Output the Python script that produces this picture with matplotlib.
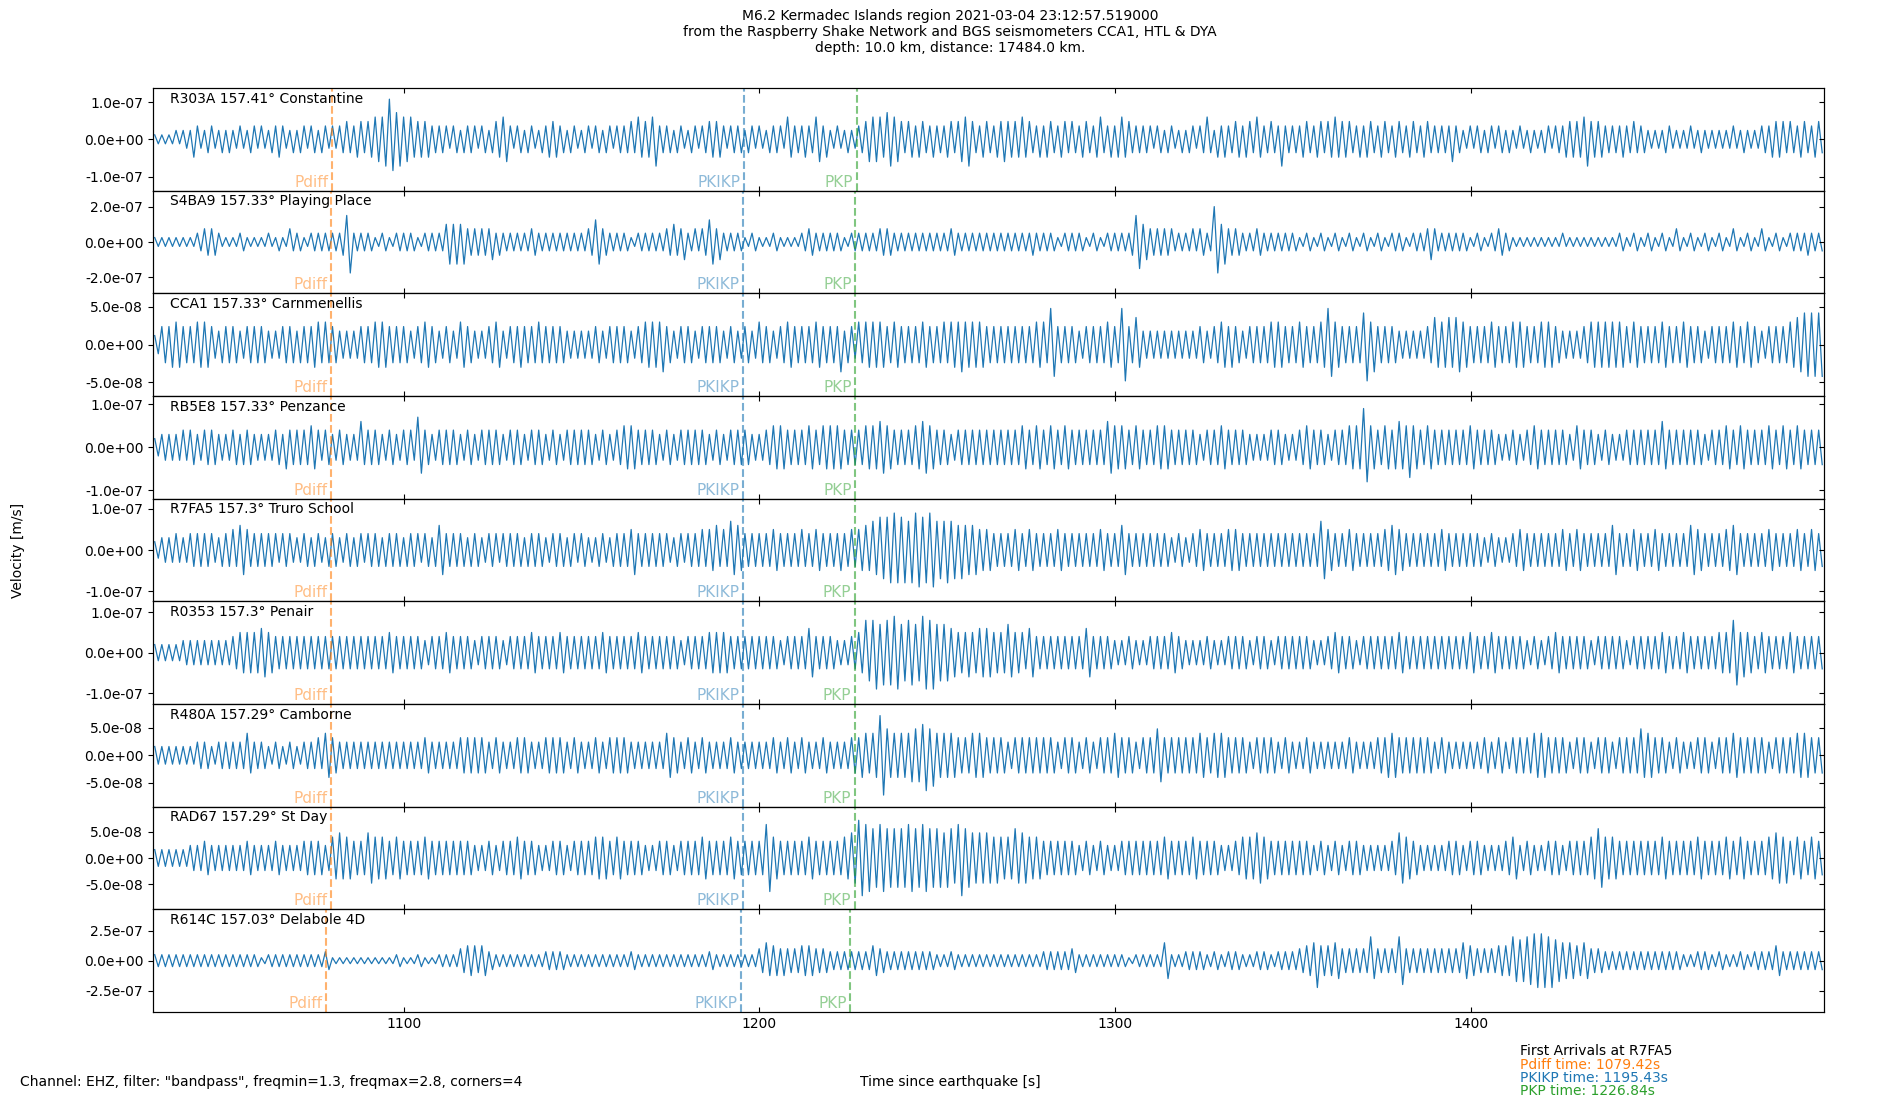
import numpy as np
import matplotlib
matplotlib.use("Agg")
import matplotlib.pyplot as plt
from matplotlib.ticker import FormatStrFormatter
from matplotlib.transforms import blended_transform_factory

# Stations (top to bottom)
stations = ["R303A", "S4BA9", "CCA1", "RB5E8", "R7FA5", "R0353", "R480A", "RAD67", "R614C"]
distances = ["157.41", "157.33", "157.33", "157.33", "157.3", "157.3", "157.29", "157.29", "157.03"]
places = ["Constantine", "Playing Place", "Carnmenellis", "Penzance", "Truro School",
          "Penair", "Camborne", "St Day", "Delabole 4D"]

# arrival times [s] per station
pdiff_times = [1079.91, 1079.55, 1079.55, 1079.55, 1079.42, 1079.42, 1079.38, 1079.38, 1078.22]
pkikp_times = [1195.63, 1195.48, 1195.48, 1195.48, 1195.43, 1195.43, 1195.41, 1195.41, 1194.94]
pkp_times = [1227.39, 1226.99, 1226.99, 1226.99, 1226.84, 1226.84, 1226.79, 1226.79, 1225.49]

# y-axis limits and tick steps [m/s]
ylims = [1.38e-7, 2.9e-7, 6.8e-8, 1.19e-7, 1.25e-7, 1.27e-7, 9.3e-8, 9.8e-8, 4.3e-7]
ytick_steps = [1e-7, 2e-7, 5e-8, 1e-7, 1e-7, 1e-7, 5e-8, 5e-8, 2.5e-7]

# amplitude unit for each digit of the envelope strings [m/s]
units = [1.2e-8, 2.5e-8, 0.6e-8, 1.0e-8, 1.0e-8, 1.0e-8, 0.8e-8, 0.8e-8, 2.5e-8]

# window start and bin width [s]
t_start = 1029.42
t_end = 1499.42
bin_width = 2.0

# max (up) and min (dn) per 2 s bin, in digit units
up_R303A = ("11122 23232 22323 32332 23323 33434 45596 55443 33323 33245 33232 34323 23323 33454 53323 23344 "
            "33323 32335 33353 23223 45565 44343 33445 43434 44543 34344 34353 35433 33232 23352 33434 53433 "
            "33434 45443 34343 43434 33332 33233 22322 23334 45443 33343 22232 23222 22322 23344 43434")
dn_R303A = ("11112 42323 32232 23423 32332 23343 45676 54443 32333 23345 23323 44332 32332 33344 63332 32344 "
            "23332 23324 34354 22323 55465 34434 34356 34345 44434 43433 43434 44333 23323 32334 43443 43363 "
            "34343 44434 43434 34343 33532 23323 32232 32344 46443 34333 22322 22322 22232 23443 34343")
up_S4BA9 = ("11111 12332 11211 12113 21222 22622 21212 22122 24443 33322 22232 22222 23532 22122 22343 23353 "
            "22212 11211 12322 22122 22332 22222 22322 22222 22222 22122 21212 22264 33332 23328 43322 32222 "
            "21212 12121 21212 21223 32222 12123 21111 11121 11111 12121 21213 12121 21312 13121 22222")
dn_S4BA9 = ("11111 12331 11211 11212 21222 23722 21212 22122 25553 33432 22232 22222 23532 22122 22334 22354 "
            "22212 11211 12322 22122 22332 22222 22322 22222 22232 22122 21212 22364 33322 22327 53322 32222 "
            "21212 12121 21212 21224 22222 12123 21111 11111 11111 12121 21212 12121 21212 12121 22322")
up_CCA1 = ("24454 45543 44344 43344 34455 43334 45544 43454 34354 33453 44445 44433 33434 44345 55434 43444 "
           "34343 54345 44454 44345 55545 44454 45555 55444 44445 58444 34445 48463 33333 33434 54434 44554 "
           "45445 85444 75444 33334 65665 44454 45544 55433 34555 55454 44544 54434 44545 43444 56777")
dn_CCA1 = ("24554 45534 44344 43344 44544 43334 45544 43454 34354 33453 45444 44433 33434 44345 56434 43444 "
           "34343 44345 44454 46434 55545 44454 44565 55444 44445 47444 34445 48453 33333 33434 55434 44554 "
           "45445 75444 86444 33334 55565 44454 45544 55433 34555 55454 44544 54434 44545 43444 56777")
up_RB5E8 = ("23334 43443 34343 33434 44544 34336 44343 44743 44434 34443 44344 34344 44343 45544 43434 44434 "
            "34443 34554 44545 55444 55654 44565 44344 44444 44545 45454 44446 55454 45544 44344 54443 33443 "
            "34544 34455 95454 65545 44444 54443 34345 44443 54434 33444 44644 44434 45454 44545 45444")
dn_RB5E8 = ("23333 43443 34443 33454 44534 34334 44343 43643 44434 34443 44344 34344 44343 45544 43434 44434 "
            "34443 34554 44545 55444 55654 44565 44344 44444 44545 45454 44446 55454 45544 44344 54443 33443 "
            "34544 34455 85455 57545 44444 54443 34345 44443 54434 33444 44544 44434 45454 44545 45444")
up_R7FA5 = ("23343 44443 45654 44444 34343 43434 44344 34443 64443 43444 44344 34434 43343 44544 44434 44556 "
            "57644 44544 45454 44455 67889 87989 77766 65544 45454 44544 44454 46444 44434 34544 45544 44444 "
            "44447 54454 44456 54444 45444 44343 34544 44454 54444 64454 45444 46544 45644 44544 45454")
dn_R7FA5 = ("23333 44434 44644 44343 34434 43443 44444 44344 64444 43434 44444 34443 43434 44644 44343 44454 "
            "46544 44544 44454 45445 56788 88989 78776 65544 45454 44544 44454 46444 44434 34544 45544 44444 "
            "44447 54454 44456 54444 45444 44343 34544 44454 54444 64454 45444 46544 45644 44544 45454")
up_R0353 = ("22223 33333 34555 65444 44444 44444 44454 44434 45444 34443 44454 44544 44454 44454 44443 44455 "
            "54444 44434 44644 43345 88789 78798 77655 56655 75564 44444 46444 33433 44454 33343 34443 44344 "
            "44433 45443 44444 54444 44444 54454 44434 34544 44344 44344 44544 54444 55855 45444 54444")
dn_R0353 = ("22223 33333 34555 65444 44444 44444 44454 44434 45444 34443 44454 44544 44454 44454 44443 44455 "
            "54444 44434 44644 43345 79889 78799 77656 56655 65464 44444 46444 33433 44454 33343 34443 44344 "
            "44433 45443 44444 54444 44444 54454 44434 34544 44344 44344 44544 54444 55865 45444 54444")
up_R480A = ("22222 23323 33353 32323 23345 43333 33333 33343 33344 44343 34433 44434 33434 44333 33543 43433 "
            "34333 33434 34334 33344 55965 55676 55544 55444 34444 44344 34344 54434 46444 44545 54443 44434 "
            "33433 33343 33445 44444 34333 33434 34445 54443 44344 34446 54434 33443 44544 44344 45544")
dn_R480A = ("22222 23323 33343 32323 23335 43333 33333 33343 33344 44343 34433 44434 33434 44333 33543 43433 "
            "34333 33434 34334 33345 45955 56687 55544 55444 34444 44344 34344 54434 46444 44545 54443 44434 "
            "33433 33343 33455 44444 34333 33434 34445 54443 44344 34445 54434 33443 44544 44344 45544")
up_RAD67 = ("22222 33433 33343 33433 34443 56544 65545 44454 44444 33434 45443 34434 44554 54443 34434 44544 "
            "45444 48544 44544 44569 87877 78787 76787 66655 57655 44444 34343 34444 44544 45444 33455 65444 "
            "44434 34344 33334 65433 33443 44333 45343 34434 44575 54444 44544 44544 45454 44565 45454")
dn_RAD67 = ("22222 33433 33343 33433 34443 55544 65545 44454 44444 33434 45443 34434 44554 54443 34434 44544 "
            "45444 48544 44544 44569 87877 78787 77697 66665 56655 44444 34343 34444 44544 45444 33455 65444 "
            "44434 34344 33334 65433 33443 44333 45343 34434 44575 54444 44544 44544 45454 44566 45454")
up_R614C = ("22222 22222 22222 12222 22223 11111 11112 11211 22245 55322 22222 33322 22222 22322 22222 22232 "
            "22222 46544 45544 33333 35433 33333 22322 22222 22222 33334 22222 22122 22622 33323 23322 33233 "
            "34565 56444 48444 84444 44446 54445 58789 98766 56443 33333 33333 22332 32232 33353 33333")
dn_R614C = ("22222 22222 22222 12222 22223 11111 11112 11211 22245 45322 22222 33322 22222 22322 22222 22232 "
            "22222 45554 45544 33333 35433 33333 22322 22222 22222 33334 22222 22122 22622 33323 23322 33233 "
            "34595 56444 46444 84444 44446 54445 57789 99766 56443 33333 33333 22332 32232 33353 33333")

ups = [up_R303A, up_S4BA9, up_CCA1, up_RB5E8, up_R7FA5, up_R0353, up_R480A, up_RAD67, up_R614C]
dns = [dn_R303A, dn_S4BA9, dn_CCA1, dn_RB5E8, dn_R7FA5, dn_R0353, dn_R480A, dn_RAD67, dn_R614C]


def digits(s):
    return np.array([int(c) for c in s.replace(" ", "")], dtype=float)


fig, axes = plt.subplots(len(stations), 1, figsize=(19, 11), dpi=100, sharex=True)
fig.subplots_adjust(left=0.0805, right=0.96, top=0.92, bottom=0.08, hspace=0)

for i, ax in enumerate(axes):
    up = digits(ups[i]) * units[i]
    dn = digits(dns[i]) * units[i]
    tb = t_start + np.arange(len(up)) * bin_width
    # min/max per bin, drawn in time order
    x = np.column_stack([tb + 0.5, tb + 1.5]).ravel()
    y = np.column_stack([up, -dn]).ravel()
    ax.plot(x, y, color="C0", lw=0.9)

    ax.set_xlim(t_start, t_end)
    ax.set_ylim(-ylims[i], ylims[i])
    step = ytick_steps[i]
    ax.set_yticks([-step, 0, step])
    ax.yaxis.set_major_formatter(FormatStrFormatter("%.1e"))
    ax.tick_params(axis="x", direction="in", top=True)

    # inward ticks on the right side
    ax2 = ax.twinx()
    ax2.set_ylim(-ylims[i], ylims[i])
    ax2.set_yticks([-step, 0, step])
    ax2.tick_params(axis="y", direction="in", labelright=False)

    ax.text(0.01, 0.965, f"{stations[i]} {distances[i]}\u00b0 {places[i]}",
            transform=ax.transAxes, ha="left", va="top", fontsize=10)

    trans = blended_transform_factory(ax.transData, ax.transAxes)
    for t_arr, name, col in [(pdiff_times[i], "Pdiff", "C1"),
                             (pkikp_times[i], "PKIKP", "C0"),
                             (pkp_times[i], "PKP", "C2")]:
        ax.axvline(t_arr, color=col, ls="--", lw=1.5, alpha=0.6)
        ax.text(t_arr - 1.0, 0.01, name, transform=trans, ha="right", va="bottom",
                color=col, alpha=0.5, fontsize=11)

axes[-1].set_xticks([1100, 1200, 1300, 1400])

fig.suptitle("M6.2 Kermadec Islands region 2021-03-04 23:12:57.519000\n"
             "from the Raspberry Shake Network and BGS seismometers CCA1, HTL & DYA\n"
             "depth: 10.0 km, distance: 17484.0 km.", fontsize=10, y=0.992)

fig.text(0.0095, 0.5, "Velocity [m/s]", rotation=90, ha="center", va="center", fontsize=10)
fig.text(0.5, 0.0164, "Time since earthquake [s]", ha="center", va="center", fontsize=10)
fig.text(0.0105, 0.0164, 'Channel: EHZ, filter: "bandpass", freqmin=1.3, freqmax=2.8, corners=4',
         ha="left", va="center", fontsize=10)

arrival_lines = [("First Arrivals at R7FA5", "black"),
                 ("Pdiff time: 1079.42s", "C1"),
                 ("PKIKP time: 1195.43s", "C0"),
                 ("PKP time: 1226.84s", "C2")]
for k, (txt, col) in enumerate(arrival_lines):
    fig.text(0.8, 0.0445 - k * 0.01225, txt, color=col, ha="left", va="center", fontsize=10)

fig.savefig("out.png", dpi=100)
